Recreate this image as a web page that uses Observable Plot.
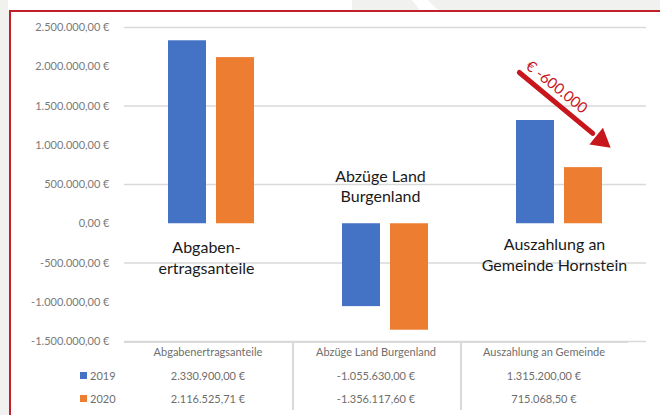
<!DOCTYPE html>
<html>
<head>
<meta charset="utf-8">
<script src="https://cdn.jsdelivr.net/npm/d3@7"></script>
<script src="https://cdn.jsdelivr.net/npm/@observablehq/plot@0.6"></script>
<style>
  html, body { margin: 0; padding: 0; }
  body { width: 660px; height: 415px; overflow: hidden; position: relative; background: #f1f1ef; font-family: Lato, "Open Sans", sans-serif; }
  .bgw { position: absolute; background: #ffffff; }
  #box { position: absolute; left: 9px; top: 10px; width: 700px; height: 460px; background: #fff; border-left: 2px solid #c21f2b; border-top: 2px solid #c21f2b; }
  #chart { position: absolute; left: 0; top: 0; }
  #chart svg { background: transparent; }
  .cell { position: absolute; font-size: 11px; color: #6e6e6e; text-align: center; line-height: 14px; white-space: nowrap; }
  .line { position: absolute; background: #d9d9d9; }
</style>
</head>
<body>
<div class="bgw" style="left:8px;top:0;width:344px;height:10px;"></div>
<div class="bgw" style="left:0;top:0;width:12px;height:60px;clip-path:polygon(70% 0,100% 0,100% 100%,100% 100%);"></div>
<div class="bgw" style="left:412px;top:0;width:26px;height:10px;clip-path:polygon(0 0,60% 0,100% 100%,30% 100%);"></div>
<div id="box"></div>
<div id="chart"></div>
<div id="table"></div>
<script>
// ---- data ----
const categories = ["Abgabenertragsanteile", "Abzüge Land Burgenland", "Auszahlung an Gemeinde"];
const chartLabels = ["Abgaben-\nertragsanteile", "Abzüge Land\nBurgenland", "Auszahlung an\nGemeinde Hornstein"];
const labelY = [-420000, 490000, -385000];
const years = ["2019", "2020"];
const values2019 = [2330900.00, -1055630.00, 1315200.00];
const values2020 = [2116525.71, -1356117.60, 715068.50];
const yTicks = [-1500000, -1000000, -500000, 0, 500000, 1000000, 1500000, 2000000, 2500000];
const gridTicks = [2500000, 1500000, 500000, -500000, -1500000];
const colors = ["#4472c4", "#ed7d31"];
// annotation (arrow from 2019 to 2020 payout)
const changeText = "€ -600.000";
const arrowCategory = "Auszahlung an Gemeinde";
const arrowFrom = 1756000, arrowTo = 1249000, arrowHead = 1067000, changeTextY = 1739000;

const fmt = d3.formatLocale({decimal: ",", thousands: ".", grouping: [3], currency: ["", "\u00a0€"], minus: "-"}).format("$,.2f");

const data = categories.flatMap((c, i) => [
  {cat: c, year: years[0], value: values2019[i]},
  {cat: c, year: years[1], value: values2020[i]}
]);
const labelData = categories.map((c, i) => ({cat: c, label: chartLabels[i], y: labelY[i]}));
const arrowData = [{cat: arrowCategory, from: years[0], to: years[1], v1: arrowFrom, v2: arrowTo}];
const headData = [{cat: arrowCategory, year: years[1], value: arrowHead}];
const changeData = [{cat: arrowCategory, year: years[0], value: changeTextY, text: changeText}];

const red = "#c8161d";

const plot = Plot.plot({
  width: 660,
  height: 353,
  marginTop: 27,
  marginBottom: 12,
  marginLeft: 123,
  marginRight: 14,
  style: {background: "transparent", fontFamily: "Lato, 'Open Sans', sans-serif"},
  fx: {domain: categories, padding: 0, axis: null},
  x: {domain: years, paddingInner: 0.2, paddingOuter: 0.88, axis: null},
  y: {domain: [-1500000, 2500000], axis: null},
  color: {domain: years, range: colors},
  marks: [
    Plot.ruleY(gridTicks, {stroke: "#d9d9d9", strokeWidth: 1.5}),
    Plot.axisY(yTicks, {tickSize: 0, tickPadding: 15, tickFormat: fmt, fontSize: 11, color: "#7a7a7a"}),
    Plot.barY(data, {fx: "cat", x: "year", y: "value", fill: "year"}),
    Plot.text(labelData, {fx: "cat", y: "y", text: "label", fontSize: 16, lineHeight: 1.3, fill: "#1a1a1a", dx: -5}),
    Plot.arrow(arrowData, {fx: "cat", x1: "from", x2: "to", y1: "v1", y2: "v2", stroke: red, strokeWidth: 5, headLength: 0, insetStart: -21, insetEnd: -12}),
    Plot.dot(headData, {fx: "cat", x: "year", y: "value", symbol: "triangle", r: 8, rotate: 129, fill: red, dx: 17.5}),
    Plot.text(changeData, {fx: "cat", x: "year", y: "value", text: "text", rotate: 39, fill: red, fontSize: 15, dx: 21})
  ]
});
document.getElementById("chart").appendChild(plot);

// ---- data table below the chart ----
const table = d3.select("#table");
const colLeft = 124, colW = 168;
const rowsY = [352, 376, 399];
table.append("div").attr("class", "line").style("left", colLeft + "px").style("top", "341px").style("width", (colW * 3) + "px").style("height", "1.5px");
[1, 2].forEach(k => {
  table.append("div").attr("class", "line").style("left", (colLeft + k * colW) + "px").style("top", "342px").style("width", "1.5px").style("height", "68px");
});
categories.forEach((c, i) => {
  table.append("div").attr("class", "cell").style("left", (colLeft + i * colW) + "px").style("width", colW + "px").style("top", (rowsY[0] - 7) + "px").text(c);
  table.append("div").attr("class", "cell").style("left", (colLeft + i * colW) + "px").style("width", colW + "px").style("top", (rowsY[1] - 7) + "px").text(fmt(values2019[i]));
  table.append("div").attr("class", "cell").style("left", (colLeft + i * colW) + "px").style("width", colW + "px").style("top", (rowsY[2] - 7) + "px").text(fmt(values2020[i]));
});
years.forEach((y, k) => {
  table.append("div").style("position", "absolute").style("left", "80px").style("top", (rowsY[k + 1] - 4) + "px").style("width", "7px").style("height", "7px").style("background", colors[k]);
  table.append("div").attr("class", "cell").style("left", "90px").style("top", (rowsY[k + 1] - 7) + "px").style("text-align", "left").text(y);
});
</script>
</body>
</html>
